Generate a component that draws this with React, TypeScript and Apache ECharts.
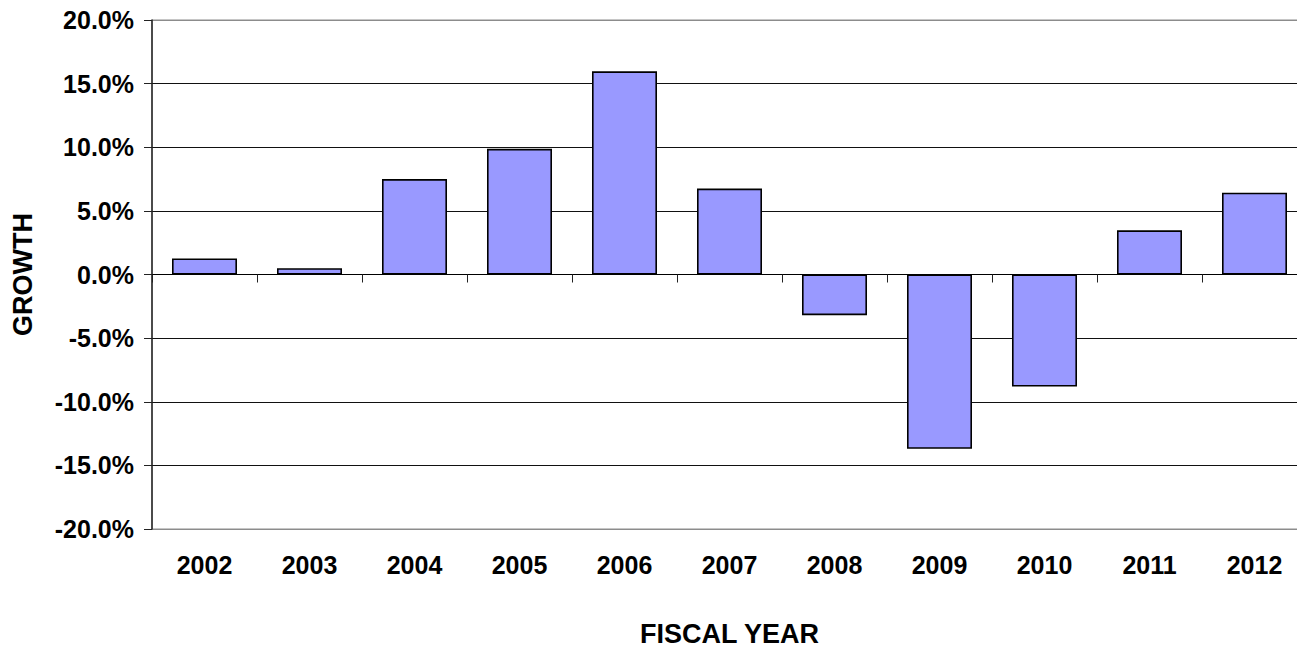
import React, { useEffect, useRef } from "react";
import * as echarts from "echarts";

const years = ["2002", "2003", "2004", "2005", "2006", "2007", "2008", "2009", "2010", "2011", "2012"];
const growth = [1.26, 0.49, 7.5, 9.88, 15.97, 6.75, -3.2, -13.7, -8.8, 3.47, 6.43];
const yMin = -20;
const yMax = 20;
const yStep = 5;

const FONT = 'Arial, "Liberation Sans", sans-serif';

export default function App() {
  const ref = useRef<HTMLDivElement>(null);

  useEffect(() => {
    if (!ref.current) return;
    const chart = echarts.init(ref.current, undefined, { renderer: "svg" });
    const splitColors: string[] = [];
    for (let v = yMin; v <= yMax; v += yStep) {
      splitColors.push(v === yMin || v === yMax ? "#8c8c8c" : "#111111");
    }
    chart.setOption({
      animation: false,
      backgroundColor: "#ffffff",
      grid: {
        left: 152,
        top: 20,
        right: -10,
        bottom: 120,
        show: true,
        borderColor: "#8c8c8c",
        borderWidth: 1,
        outerBoundsMode: "none",
        containLabel: false,
      },
      xAxis: [
        {
          type: "category",
          data: years,
          position: "bottom",
          axisLine: { show: true, onZero: true, lineStyle: { color: "#000", width: 1 } },
          axisTick: { show: true, length: 8, lineStyle: { color: "#222", width: 1 } },
          axisLabel: { show: false },
          splitLine: { show: false },
        },
        {
          type: "category",
          data: years,
          position: "bottom",
          axisLine: { show: false, onZero: false },
          axisTick: { show: false },
          axisLabel: {
            show: true,
            margin: 23,
            fontFamily: FONT,
            fontWeight: "bold",
            fontSize: 25,
            color: "#000",
          },
          name: "FISCAL YEAR",
          nameLocation: "middle",
          nameGap: 91,
          nameTextStyle: {
            fontFamily: FONT,
            fontWeight: "bold",
            fontSize: 27,
            color: "#000",
          },
        },
      ],
      yAxis: {
        type: "value",
        min: yMin,
        max: yMax,
        interval: yStep,
        axisLine: { show: true, lineStyle: { color: "#222", width: 1.5 } },
        axisTick: { show: true, length: 8, lineStyle: { color: "#222", width: 1 } },
        axisLabel: {
          margin: 18,
          fontFamily: FONT,
          fontWeight: "bold",
          fontSize: 25,
          color: "#000",
          formatter: (v: number) => v.toFixed(1) + "%",
        },
        splitLine: { show: true, lineStyle: { color: splitColors, width: 1 } },
        name: "GROWTH",
        nameLocation: "middle",
        nameGap: 116,
        nameRotate: 90,
        nameTextStyle: {
          fontFamily: FONT,
          fontWeight: "bold",
          fontSize: 27,
          color: "#000",
        },
      },
      series: [
        {
          type: "bar",
          xAxisIndex: 0,
          data: growth,
          barWidth: 65,
          itemStyle: { color: "#9999ff", borderColor: "#000", borderWidth: 1.6 },
        },
      ],
    });
    return () => chart.dispose();
  }, []);

  return (
    <div
      ref={ref}
      style={{ position: "fixed", left: 0, top: 0, width: 1297, height: 649, background: "#fff" }}
    />
  );
}
